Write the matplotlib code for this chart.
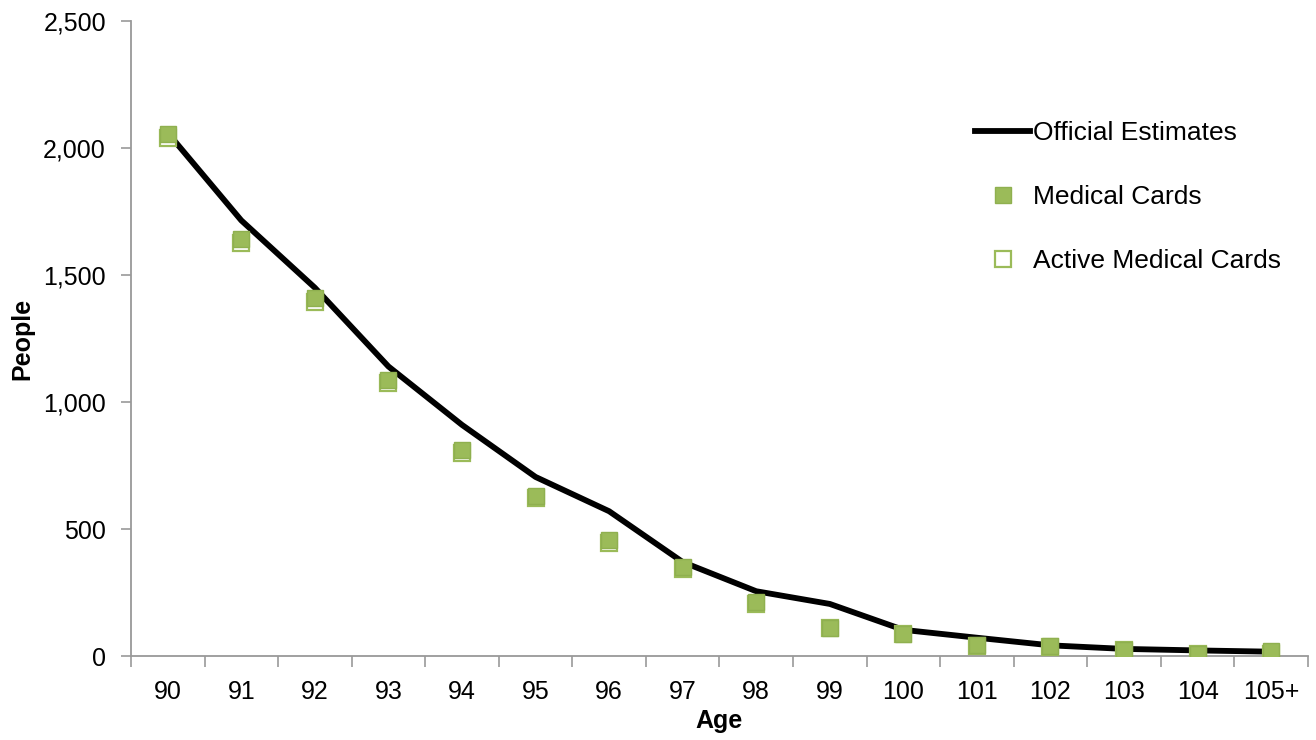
import matplotlib
matplotlib.use("Agg")
import matplotlib.pyplot as plt
from matplotlib.ticker import FuncFormatter

plt.rcParams['font.family'] = ['Liberation Sans', 'DejaVu Sans']

# data
ages = ['90', '91', '92', '93', '94', '95', '96', '97', '98', '99',
        '100', '101', '102', '103', '104', '105+']
official = [2060, 1715, 1450, 1140, 910, 705, 570, 370, 255, 205,
            103, 72, 42, 28, 22, 17]
medical = [2055, 1642, 1408, 1087, 811, 630, 458, 352, 214, 112,
           88, 42, 38, 25, 8, 18]
active = [2040, 1628, 1393, 1075, 800, 622, 445, 342, 203, 110,
          86, 40, 36, 24, 7, 8]

green = '#9BBB59'
x = list(range(len(ages)))

fig = plt.figure(figsize=(13.16, 7.4), dpi=100)
ax = fig.add_axes([0.0995, 0.1135, 0.8944, 0.8581])

ax.plot(x, official, color='black', linewidth=4.2, label='Official Estimates', zorder=2)
ax.plot(x, active, linestyle='none', marker='s', markersize=11,
        markerfacecolor='white', markeredgecolor=green, markeredgewidth=1.6,
        label='Active Medical Cards', zorder=3)
ax.plot(x, medical, linestyle='none', marker='s', markersize=11,
        markerfacecolor=green, markeredgecolor='#8FB04F', markeredgewidth=1.0,
        label='Medical Cards', zorder=4)

ax.set_xlim(-0.5, len(ages) - 0.5)
ax.set_ylim(0, 2500)
ax.set_yticks(range(0, 2501, 500))
ax.yaxis.set_major_formatter(FuncFormatter(lambda v, p: f'{int(v):,}'))

# category labels centred, tick marks on the boundaries
ax.set_xticks(x)
ax.set_xticklabels(ages)
ax.set_xticks([i - 0.5 for i in range(len(ages) + 1)], minor=True)
ax.tick_params(axis='x', which='major', length=0, pad=17, labelsize=18)
ax.tick_params(axis='x', which='minor', length=8, color='#999999', width=1.2)
ax.tick_params(axis='y', length=7, color='#999999', width=1.2, labelsize=18, pad=11)

for side in ['top', 'right']:
    ax.spines[side].set_visible(False)
for side in ['left', 'bottom']:
    ax.spines[side].set_color('#999999')
    ax.spines[side].set_linewidth(1.3)

ax.set_xlabel('Age', fontsize=18, fontweight='bold', labelpad=4)
ax.set_ylabel('People', fontsize=18, fontweight='bold', labelpad=6)

handles, labels = ax.get_legend_handles_labels()
order = [0, 2, 1]
ax.legend([handles[i] for i in order], [labels[i] for i in order],
          loc='upper left', bbox_to_anchor=(975 / 1316, 1 - 121 / 740),
          bbox_transform=fig.transFigure, frameon=False, fontsize=19,
          handlelength=2.1, handletextpad=0.1, labelspacing=1.52,
          borderpad=0, borderaxespad=0)

fig.savefig('out.png', dpi=100)
